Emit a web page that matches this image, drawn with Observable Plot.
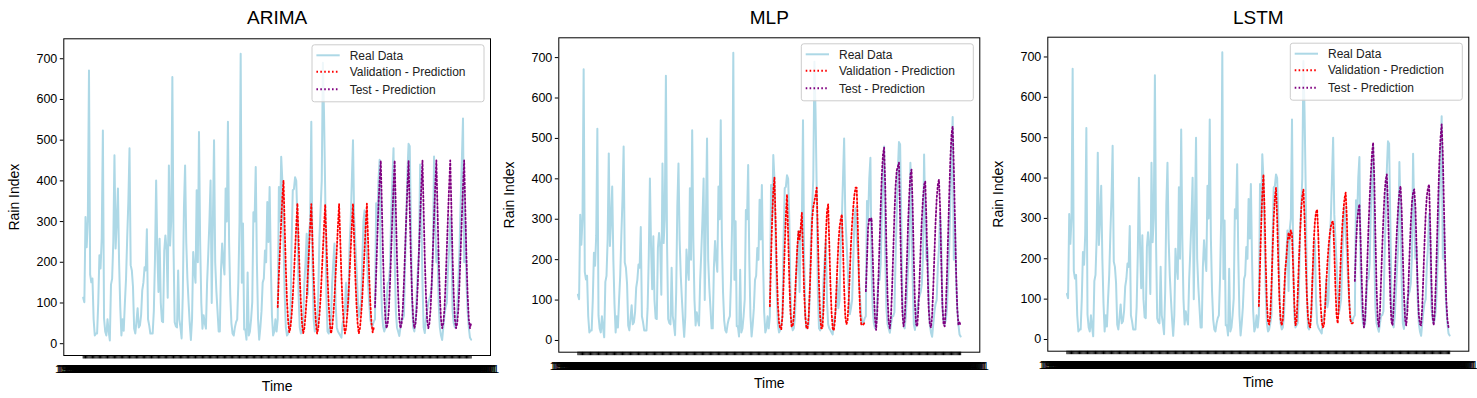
<!DOCTYPE html>
<html><head><meta charset="utf-8">
<script src="https://cdn.jsdelivr.net/npm/d3@7"></script>
<script src="https://cdn.jsdelivr.net/npm/@observablehq/plot@0.6"></script>
<style>
body{margin:0;background:#fff;width:1477px;height:398px;overflow:hidden;position:relative;font-family:"Liberation Sans",Arial,sans-serif;}
.panel{position:absolute;top:0;height:398px;}
.panel svg{overflow:visible;max-width:none;}
</style></head><body>
<script>
// ---- data (monthly rain index) ----
const realData = [
113,102,311,237,300,671,170,151,160,60,20,25,
25,100,217,185,260,524,62,30,20,60,30,8,
145,160,250,463,234,300,381,200,90,20,60,32,
100,160,260,350,480,193,180,140,37,25,55,87,
40,45,70,131,150,188,180,281,60,45,25,25,
25,80,209,401,230,127,258,100,55,53,229,266,
230,113,438,241,300,655,237,53,43,40,180,60,
40,13,120,332,438,250,160,102,50,9,60,225,
180,150,377,200,520,250,100,37,70,50,37,150,
220,300,401,100,300,500,200,130,80,30,30,180,
246,200,170,381,300,545,250,120,50,25,20,40,
53,60,150,300,712,150,295,35,35,10,175,20,
30,60,102,323,300,434,200,60,10,40,80,150,
160,229,200,348,250,385,200,70,20,30,60,30,
60,385,300,459,400,250,120,40,20,25,40,60,
250,377,380,409,400,300,120,40,25,30,60,150,
200,270,120,272,300,545,200,60,30,35,40,120,
260,328,400,690,561,373,120,30,25,40,60,150,
200,246,100,40,30,25,20,15,50,60,80,150,
80,100,238,300,400,500,310,250,189,120,65,80,
100,200,300,328,260,220,150,100,60,43,45,55,
60,345,300,400,452,180,80,43,30,40,100,150,
150,189,320,400,480,210,80,40,30,19,40,60,
60,70,200,310,420,491,485,300,100,40,30,60,
120,180,230,440,320,150,40,26,60,80,100,110,
120,140,210,460,300,200,230,100,40,20,9,40,
70,90,100,180,230,311,250,80,50,40,50,80,
150,230,350,450,553,200,300,150,80,40,15,10
];
const valStart = 168;
const testStart = 252;

const arimaVal = [
90,170,235,300,360,401,290,185,105,55,28,40,
70,115,170,230,290,345,255,165,100,50,26,38,
70,112,170,230,288,343,255,165,98,50,25,38,
70,112,170,230,288,342,255,165,98,50,25,38,
70,112,170,230,290,343,255,165,98,50,25,38,
70,112,170,230,290,344,255,165,98,50,25,38,
70,112,170,230,290,344,255,165,98,50,28,40
];
const arimaTest = [
90,170,260,340,400,450,330,210,120,60,38,50,
85,150,230,310,385,450,330,210,120,60,38,50,
85,150,230,310,385,450,330,210,120,60,38,50,
85,150,230,310,385,450,330,210,120,60,38,50,
85,150,230,310,385,450,330,210,120,60,38,50,
85,150,230,310,385,450,330,210,120,60,38,50,
85,150,230,310,385,450,330,210,120,60,38,50
];
const mlpVal = [
85,200,300,370,403,300,180,90,45,30,28,60,
140,230,310,361,260,150,70,35,35,60,110,170,
230,270,250,280,316,220,120,60,30,30,60,130,
210,300,330,345,360,378,260,140,60,30,30,80,
170,260,320,337,240,140,70,30,25,50,110,180,
240,280,300,312,230,130,60,40,50,100,170,240,
290,330,360,378,378,280,150,70,40,38,40,45
];
const mlpTest = [
122,200,280,303,295,303,210,120,55,26,70,150,
240,330,410,460,477,380,230,110,45,30,60,130,
220,310,380,420,430,440,300,170,70,35,50,120,
200,290,360,410,423,330,200,90,40,35,80,150,
230,300,350,385,394,300,180,80,40,32,60,130,
210,290,350,385,398,330,200,90,40,35,80,160,
260,360,450,510,530,430,300,170,80,40,45,37
];
const lstmVal = [
83,180,280,360,409,320,190,90,45,37,60,130,
220,300,350,376,300,190,100,50,35,50,110,170,
200,240,265,250,271,260,180,90,35,45,110,190,
260,320,355,372,300,200,110,55,35,30,80,160,
240,290,315,322,260,170,90,45,30,35,80,140,
190,230,260,280,290,293,220,130,60,40,80,150,
220,280,320,350,364,300,190,100,50,40,40,45
];
const lstmTest = [
145,230,290,320,335,250,150,70,30,50,120,200,
280,350,410,460,488,400,260,130,50,32,70,150,
230,300,360,395,409,330,210,110,45,35,80,150,
220,280,330,365,380,320,210,110,50,35,70,140,
220,290,340,365,372,330,230,130,60,38,35,80,
160,240,310,355,375,384,280,150,60,35,70,150,
250,350,440,500,533,460,330,200,100,50,30,30
];
const modelNames = ["ARIMA", "MLP", "LSTM"];
const yTicks = [0, 100, 200, 300, 400, 500, 600, 700];
const legendLabels = ["Real Data", "Validation - Prediction", "Test - Prediction"];
const firstMonth = new Date(Date.UTC(1996, 0, 1));
const timeLabels = d3.utcMonth.range(firstMonth, d3.utcMonth.offset(firstMonth, realData.length)).map(d3.utcFormat("%Y-%m-%d"));

// ---- layout ----
const FONT = '"Liberation Sans", Arial, sans-serif';
const H = 398;
const DOT = "1.6,2.3";
const preds = {ARIMA: [arimaVal, arimaTest], MLP: [mlpVal, mlpTest], LSTM: [lstmVal, lstmTest]};
const layout = [
  {left: 0,   width: 500, frameL: 63.3,   frameR: 490,    top: 38.3, bottom: 355},
  {left: 500, width: 490, frameL: 558.3,  frameR: 979.3,  top: 37.3, bottom: 351.7},
  {left: 990, width: 487, frameL: 1047.3, frameR: 1468.3, top: 36.7, bottom: 350.7}
];
const n = realData.length;
const xDomain = [-0.05 * (n - 1), (n - 1) * 1.05];

modelNames.forEach((name, k) => {
  const L = layout[k];
  const [val, test] = preds[name];
  const real = realData.map((v, i) => ({t: i, v}));
  const valRows = val.map((v, i) => ({t: valStart + i, v}));
  const testRows = test.map((v, i) => ({t: testStart + i, v}));
  const svg = Plot.plot({
    width: L.width, height: H,
    marginLeft: L.frameL - L.left, marginRight: L.left + L.width - L.frameR,
    marginTop: L.top, marginBottom: H - L.bottom,
    style: {fontFamily: FONT, fontSize: "12.5px", color: "#000", background: "transparent", overflow: "visible"},
    x: {domain: xDomain},
    y: {domain: [-29, 749]},
    marks: [
      Plot.lineY(real, {x: "t", y: "v", stroke: "#add8e6", strokeWidth: 2}),
      Plot.lineY(valRows, {x: "t", y: "v", stroke: "#ff0000", strokeWidth: 1.8, strokeDasharray: DOT}),
      Plot.lineY(testRows, {x: "t", y: "v", stroke: "#800080", strokeWidth: 1.8, strokeDasharray: DOT}),
      Plot.frame({stroke: "#000", strokeWidth: 1}),
      Plot.axisY({ticks: yTicks, tickSize: 3.5, tickPadding: 3, label: null, fontSize: 12.5, tickFormat: d => String(d)}),
      Plot.axisX({ticks: d3.range(n), tickSize: 3.5, tickPadding: 6, label: null, fontSize: 11, tickFormat: i => timeLabels[i]}),
      Plot.text([name], {text: d => d, frameAnchor: "top", lineAnchor: "middle", dy: 17 - L.top, fontSize: 19}),
      Plot.text(["Time"], {text: d => d, frameAnchor: "bottom", lineAnchor: "middle", dy: 31.5, fontSize: 14}),
      Plot.text(["Rain Index"], {text: d => d, frameAnchor: "left", rotate: -90, textAnchor: "middle", lineAnchor: "middle", dx: -49, fontSize: 14})
    ]
  });
  // legend (inside upper-right of the frame)
  const lw = 172, lh = 57;
  const lx = (L.frameR - L.left) - 6 - lw, ly = L.top + 6.5;
  const g = d3.select(svg).append("g").attr("font-family", FONT).attr("font-size", 12).attr("text-anchor", "start");
  g.append("rect").attr("x", lx).attr("y", ly).attr("width", lw).attr("height", lh)
    .attr("rx", 2.5).attr("fill", "#fff").attr("fill-opacity", 0.8).attr("stroke", "#cccccc").attr("stroke-width", 1);
  const styles = [
    {stroke: "#add8e6", dash: null},
    {stroke: "#ff0000", dash: DOT},
    {stroke: "#800080", dash: DOT}
  ];
  const rowY = [10.5, 27, 44.5];
  legendLabels.forEach((lab, j) => {
    const yy = ly + rowY[j];
    const ln = g.append("line").attr("x1", lx + 4.4).attr("x2", lx + 27.7).attr("y1", yy).attr("y2", yy)
      .attr("stroke", styles[j].stroke).attr("stroke-width", 2);
    if (styles[j].dash) ln.attr("stroke-dasharray", styles[j].dash);
    g.append("text").attr("x", lx + 37.7).attr("y", yy).attr("dy", "0.35em").attr("fill", "#222")
      .attr("text-anchor", "start").text(lab);
  });
  const div = document.createElement("div");
  div.className = "panel";
  div.style.left = L.left + "px";
  div.style.width = L.width + "px";
  div.appendChild(svg);
  document.body.appendChild(div);
});
</script>
</body></html>
